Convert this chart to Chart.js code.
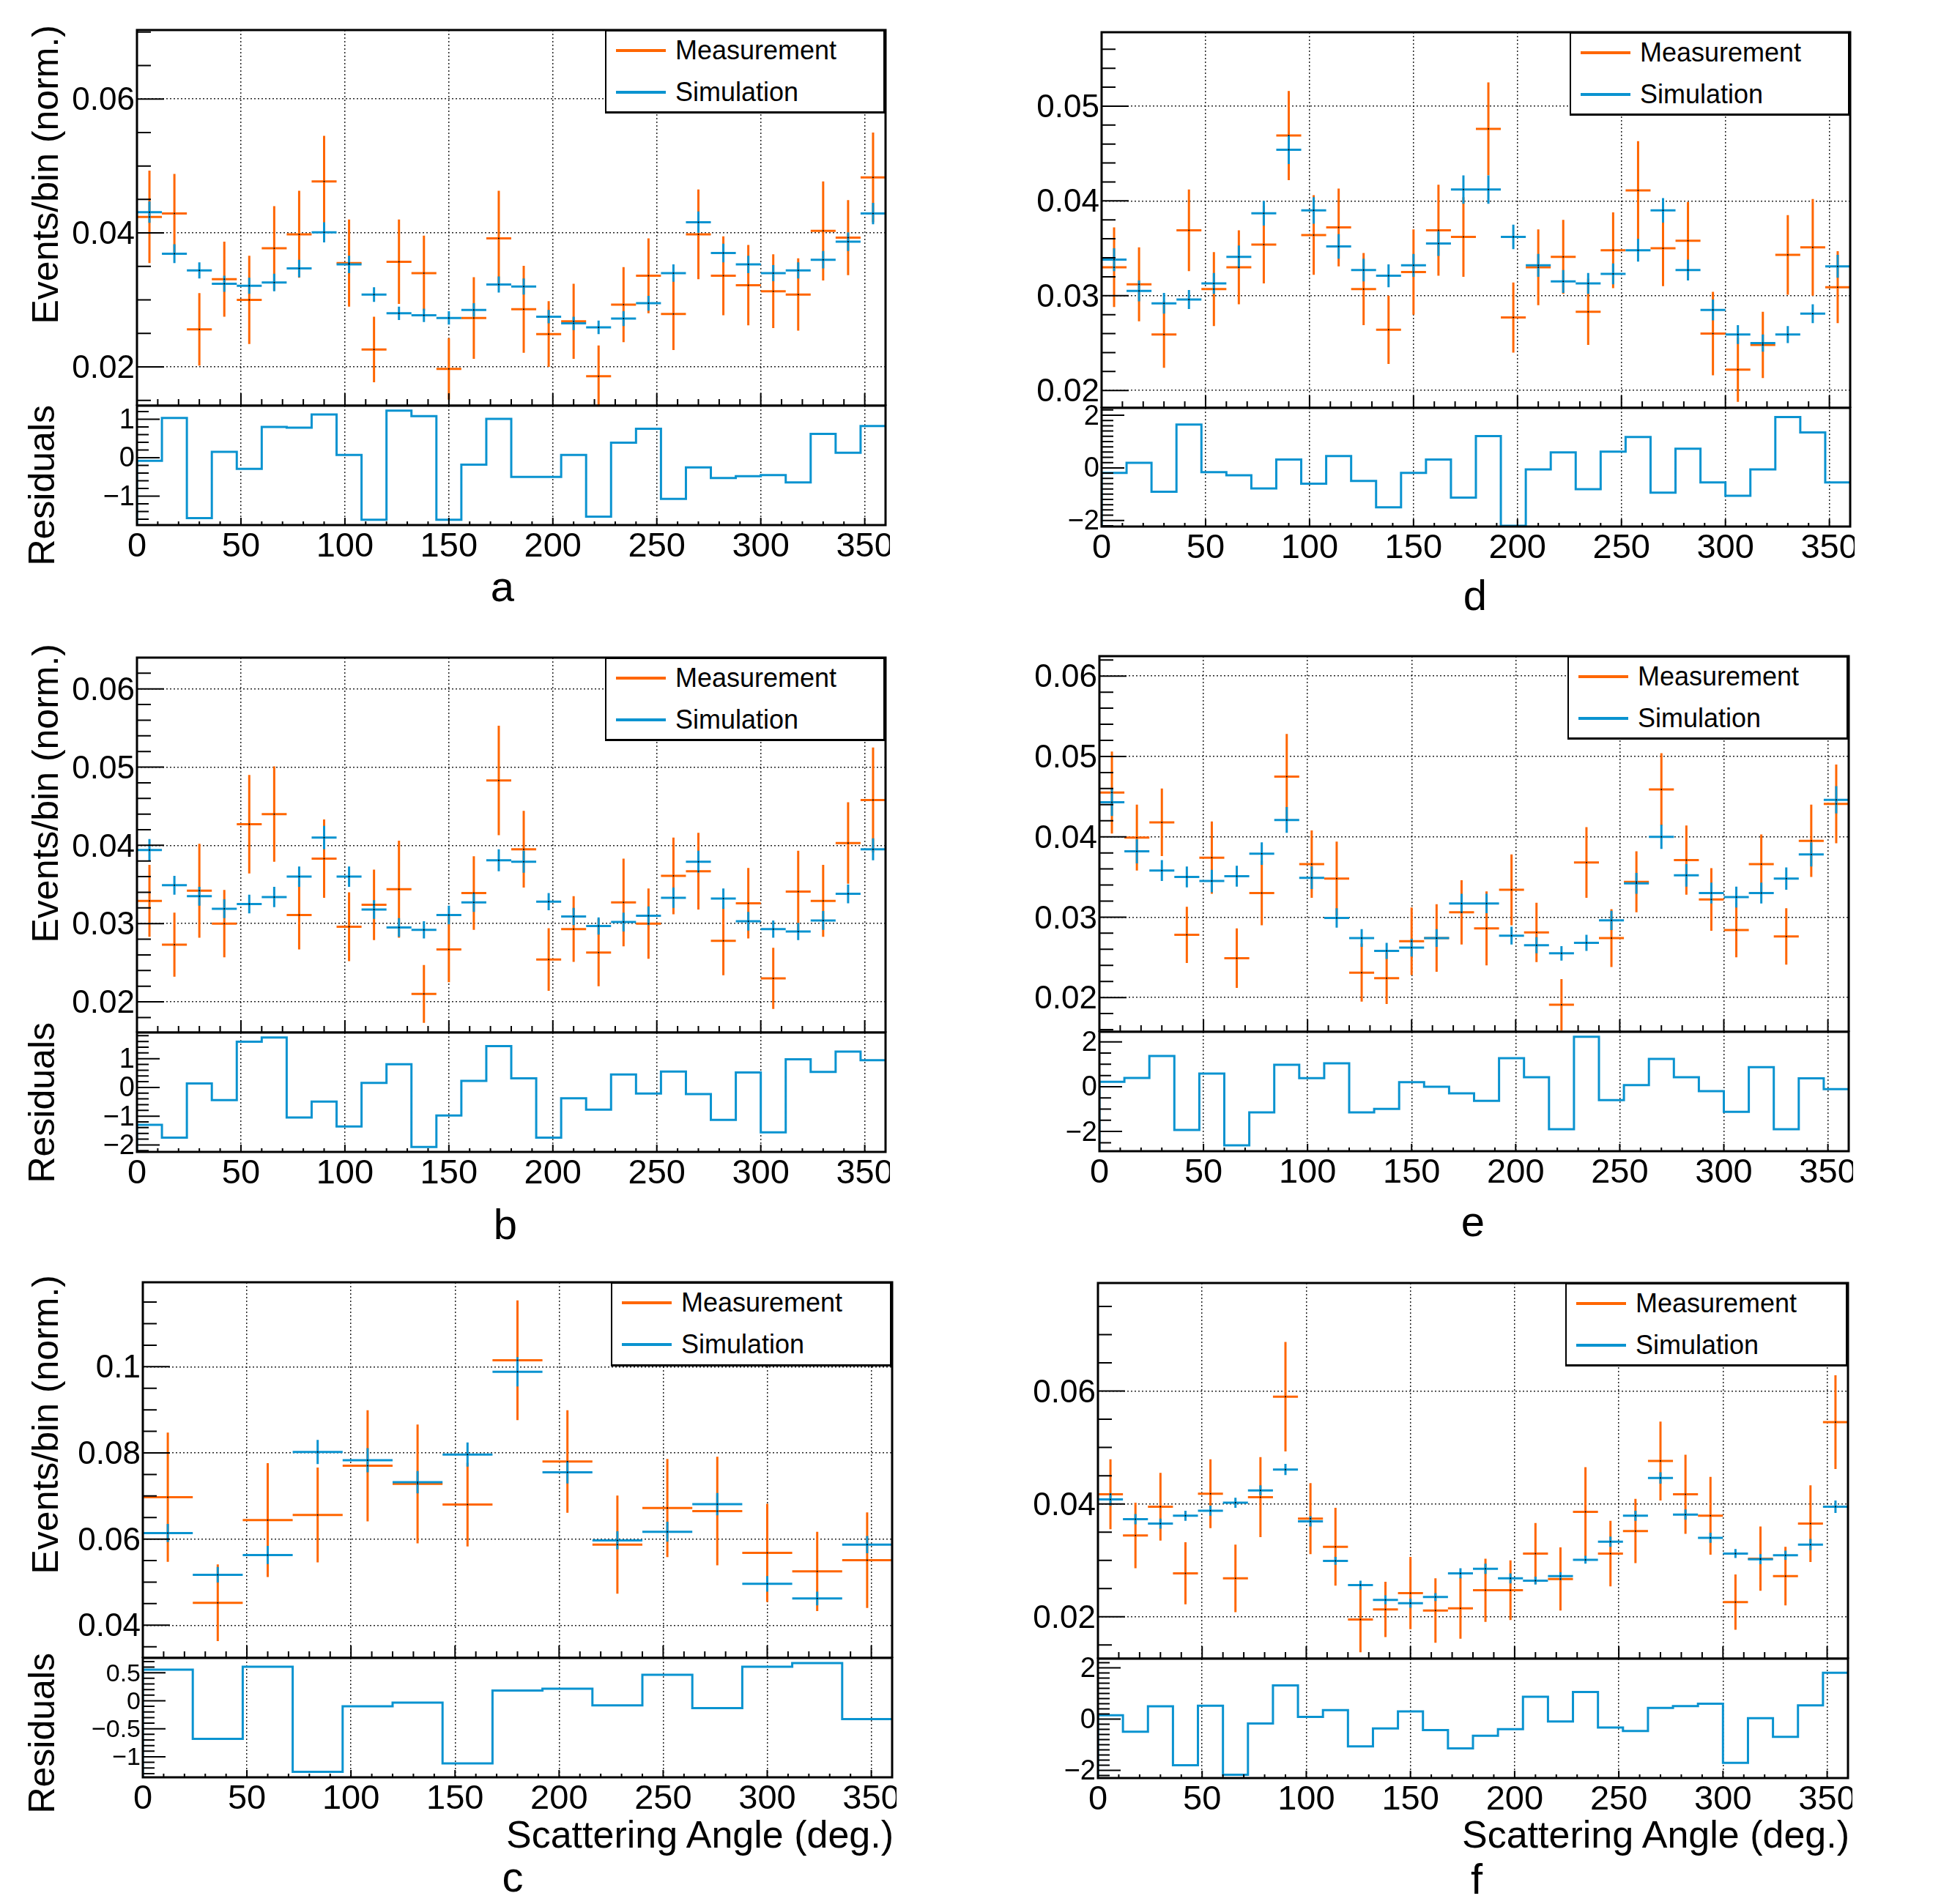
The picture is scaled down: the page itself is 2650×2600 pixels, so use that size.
<!DOCTYPE html>
<html><head><meta charset="utf-8">
<script src="https://cdn.jsdelivr.net/npm/chart.js@4.4.1/dist/chart.umd.min.js"></script>
<style>
html,body{margin:0;padding:0;background:#fff}
body{position:relative;width:2650px;height:2600px;overflow:hidden;font-family:'Liberation Sans',Arial,Helvetica,sans-serif;color:#000}
canvas{position:absolute}
.leg{position:absolute;background:#fff;border-style:solid;border-color:#000;border-width:2px 3px 3px 2px;box-sizing:border-box}
.leg .ln{position:absolute;height:4px}
.leg .tx{position:absolute;font-size:36px;line-height:40px;white-space:nowrap}
.vt{position:absolute;writing-mode:vertical-rl;transform:rotate(180deg);line-height:1;white-space:nowrap}
.ht{position:absolute;line-height:1;white-space:nowrap}
</style></head><body>
<script>
// ---------------- data ----------------
const angles30 = [6,18,30,42,54,66,78,90,102,114,126,138,150,162,174,186,198,210,222,234,246,258,270,282,294,306,318,330,342,354];
const angles15 = [12,36,60,84,108,132,156,180,204,228,252,276,300,324,348];
const xTicks = [0,50,100,150,200,250,300,350];

// panel a
const measA    = [0.0424,0.0429,0.0256,0.0331,0.0300,0.0377,0.0398,0.0477,0.0355,0.0226,0.0357,0.0340,0.0197,0.0273,0.0392,0.0286,0.0249,0.0268,0.0186,0.0293,0.0336,0.0279,0.0398,0.0336,0.0322,0.0313,0.0308,0.0403,0.0393,0.0483];
const measErrA = [0.0069,0.0059,0.0054,0.0056,0.0066,0.0063,0.0065,0.0068,0.0065,0.0049,0.0063,0.0056,0.0046,0.0061,0.0071,0.0065,0.0049,0.0056,0.0046,0.0056,0.0056,0.0054,0.0067,0.0059,0.0060,0.0055,0.0054,0.0074,0.0056,0.0067];
const simA     = [0.0431,0.0369,0.0344,0.0324,0.0321,0.0326,0.0347,0.0401,0.0353,0.0308,0.0280,0.0277,0.0273,0.0285,0.0323,0.0320,0.0275,0.0265,0.0259,0.0272,0.0295,0.0340,0.0416,0.0370,0.0353,0.0340,0.0344,0.0360,0.0387,0.0429];
const simErrA  = [0.0016,0.0014,0.0012,0.0012,0.0012,0.0013,0.0013,0.0015,0.0013,0.0011,0.0010,0.0010,0.0010,0.0010,0.0012,0.0012,0.0010,0.0010,0.0010,0.0011,0.0011,0.0013,0.0016,0.0014,0.0013,0.0012,0.0012,0.0013,0.0014,0.0016];
const residA   = [-0.08,1.03,-1.57,0.15,-0.29,0.80,0.78,1.12,0.07,-1.61,1.22,1.08,-1.61,-0.18,1.01,-0.50,-0.50,0.07,-1.53,0.39,0.75,-1.07,-0.25,-0.53,-0.48,-0.45,-0.64,0.62,0.13,0.82];
const yTicksA = [0.02,0.04,0.06];
const rTicksA = [-1,0,1];

// panel d
const measD    = [0.0330,0.0312,0.0259,0.0369,0.0307,0.0330,0.0354,0.0469,0.0364,0.0372,0.0307,0.0264,0.0325,0.0369,0.0362,0.0476,0.0277,0.0330,0.0341,0.0283,0.0348,0.0411,0.0350,0.0358,0.0260,0.0222,0.0248,0.0343,0.0351,0.0309];
const measErrD = [0.0042,0.0039,0.0035,0.0043,0.0039,0.0039,0.0041,0.0047,0.0042,0.0041,0.0038,0.0036,0.0045,0.0048,0.0042,0.0049,0.0037,0.0040,0.0039,0.0035,0.0040,0.0052,0.0040,0.0041,0.0044,0.0034,0.0035,0.0042,0.0051,0.0038];
const simD     = [0.0338,0.0305,0.0292,0.0296,0.0313,0.0341,0.0387,0.0454,0.0390,0.0352,0.0327,0.0321,0.0332,0.0355,0.0412,0.0412,0.0362,0.0332,0.0315,0.0313,0.0323,0.0348,0.0390,0.0327,0.0285,0.0259,0.0250,0.0259,0.0281,0.0331];
const simErrD  = [0.0012,0.0011,0.0011,0.0010,0.0011,0.0012,0.0013,0.0015,0.0014,0.0013,0.0012,0.0012,0.0012,0.0013,0.0015,0.0015,0.0013,0.0012,0.0012,0.0011,0.0011,0.0012,0.0013,0.0011,0.0011,0.0010,0.0009,0.0009,0.0010,0.0012];
const residD   = [-0.19,0.19,-0.91,1.65,-0.16,-0.28,-0.78,0.32,-0.60,0.45,-0.50,-1.50,-0.19,0.32,-1.13,1.21,-2.20,-0.06,0.59,-0.81,0.62,1.17,-0.94,0.73,-0.55,-1.06,-0.06,1.93,1.35,-0.55];
const yTicksD = [0.02,0.03,0.04,0.05];
const rTicksD = [-2,0,2];

// panel b
const measB    = [0.0329,0.0273,0.0342,0.0300,0.0427,0.0440,0.0311,0.0383,0.0296,0.0324,0.0344,0.0210,0.0267,0.0339,0.0483,0.0395,0.0254,0.0293,0.0263,0.0327,0.0300,0.0361,0.0367,0.0278,0.0326,0.0230,0.0341,0.0329,0.0403,0.0458];
const measErrB = [0.0046,0.0041,0.0060,0.0043,0.0063,0.0061,0.0044,0.0050,0.0044,0.0045,0.0062,0.0037,0.0042,0.0047,0.0070,0.0049,0.0040,0.0042,0.0043,0.0056,0.0045,0.0049,0.0049,0.0044,0.0045,0.0039,0.0052,0.0046,0.0052,0.0067];
const simB     = [0.0394,0.0349,0.0335,0.0319,0.0325,0.0334,0.0360,0.0410,0.0360,0.0318,0.0295,0.0292,0.0311,0.0327,0.0381,0.0379,0.0328,0.0309,0.0297,0.0302,0.0310,0.0333,0.0379,0.0332,0.0303,0.0293,0.0290,0.0304,0.0338,0.0395];
const simErrB  = [0.0014,0.0012,0.0012,0.0012,0.0012,0.0013,0.0013,0.0015,0.0013,0.0012,0.0012,0.0011,0.0012,0.0012,0.0014,0.0014,0.0011,0.0011,0.0011,0.0012,0.0012,0.0013,0.0014,0.0013,0.0012,0.0011,0.0011,0.0012,0.0012,0.0014];
const residB   = [-1.30,-1.75,0.14,-0.44,1.59,1.74,-1.05,-0.49,-1.36,0.16,0.81,-2.07,-0.98,0.23,1.44,0.32,-1.75,-0.38,-0.77,0.45,-0.21,0.55,-0.23,-1.13,0.52,-1.56,0.98,0.54,1.25,0.95];
const yTicksB = [0.02,0.03,0.04,0.05,0.06];
const rTicksB = [-2,-1,0,1];

// panel e
const measE    = [0.0455,0.0399,0.0418,0.0278,0.0374,0.0249,0.0330,0.0475,0.0366,0.0348,0.0231,0.0224,0.0270,0.0274,0.0306,0.0286,0.0334,0.0281,0.0191,0.0368,0.0274,0.0344,0.0459,0.0371,0.0322,0.0284,0.0366,0.0276,0.0395,0.0441];
const measErrE = [0.0051,0.0041,0.0042,0.0035,0.0045,0.0037,0.0040,0.0053,0.0042,0.0046,0.0036,0.0032,0.0042,0.0042,0.0040,0.0046,0.0044,0.0037,0.0032,0.0044,0.0036,0.0038,0.0045,0.0043,0.0039,0.0034,0.0037,0.0035,0.0045,0.0049];
const simE     = [0.0443,0.0382,0.0358,0.0350,0.0345,0.0351,0.0379,0.0421,0.0349,0.0299,0.0274,0.0258,0.0262,0.0274,0.0317,0.0317,0.0277,0.0265,0.0255,0.0268,0.0296,0.0342,0.0400,0.0352,0.0330,0.0325,0.0330,0.0348,0.0378,0.0446];
const simErrE  = [0.0017,0.0015,0.0013,0.0013,0.0014,0.0013,0.0014,0.0016,0.0014,0.0012,0.0011,0.0010,0.0011,0.0011,0.0012,0.0012,0.0011,0.0010,0.0009,0.0010,0.0012,0.0013,0.0015,0.0014,0.0013,0.0013,0.0013,0.0014,0.0015,0.0017];
const residE   = [0.22,0.39,1.37,-1.93,0.59,-2.62,-1.15,0.98,0.38,1.04,-1.15,-0.99,0.20,0.00,-0.30,-0.63,1.27,0.42,-1.90,2.23,-0.60,0.07,1.24,0.42,-0.20,-1.12,0.87,-1.90,0.37,-0.11];
const yTicksE = [0.02,0.03,0.04,0.05,0.06];
const rTicksE = [-2,0,2];

// panel c
const measC    = [0.0697,0.0452,0.0644,0.0656,0.0770,0.0728,0.0680,0.1015,0.0780,0.0587,0.0672,0.0665,0.0568,0.0525,0.0551];
const measErrC = [0.0150,0.0089,0.0132,0.0110,0.0129,0.0138,0.0097,0.0139,0.0119,0.0114,0.0114,0.0126,0.0114,0.0092,0.0111];
const simC     = [0.0614,0.0517,0.0563,0.0802,0.0783,0.0732,0.0796,0.0988,0.0755,0.0597,0.0617,0.0681,0.0496,0.0462,0.0587];
const simErrC  = [0.0021,0.0018,0.0021,0.0028,0.0028,0.0026,0.0028,0.0034,0.0026,0.0021,0.0023,0.0026,0.0018,0.0016,0.0020];
const residC   = [0.555,-0.68,0.607,-1.27,-0.10,-0.035,-1.12,0.183,0.214,-0.083,0.463,-0.131,0.607,0.672,-0.328];
const yTicksC = [0.04,0.06,0.08,0.1];
const rTicksC = [-1,-0.5,0,0.5];

// panel f
const measF    = [0.0417,0.0344,0.0395,0.0277,0.0418,0.0268,0.0412,0.0590,0.0374,0.0324,0.0195,0.0213,0.0242,0.0211,0.0215,0.0247,0.0247,0.0312,0.0267,0.0386,0.0312,0.0352,0.0476,0.0417,0.0379,0.0226,0.0303,0.0272,0.0365,0.0545];
const measErrF = [0.0062,0.0058,0.0060,0.0055,0.0061,0.0060,0.0071,0.0097,0.0063,0.0069,0.0058,0.0049,0.0064,0.0057,0.0054,0.0056,0.0053,0.0054,0.0056,0.0079,0.0058,0.0057,0.0070,0.0070,0.0069,0.0049,0.0057,0.0052,0.0068,0.0083];
const simF     = [0.0408,0.0373,0.0365,0.0379,0.0388,0.0402,0.0424,0.0461,0.0369,0.0299,0.0256,0.0230,0.0224,0.0235,0.0277,0.0285,0.0268,0.0264,0.0272,0.0301,0.0333,0.0379,0.0446,0.0381,0.0340,0.0312,0.0302,0.0309,0.0328,0.0395];
const simErrF  = [0.0011,0.0009,0.0009,0.0009,0.0009,0.0009,0.0009,0.0010,0.0009,0.0007,0.0008,0.0008,0.0008,0.0007,0.0009,0.0009,0.0009,0.0007,0.0007,0.0007,0.0009,0.0009,0.0010,0.0009,0.0009,0.0008,0.0009,0.0008,0.0010,0.0011];
const residF   = [0.15,-0.49,0.50,-1.80,0.52,-2.17,-0.17,1.32,0.09,0.35,-1.06,-0.36,0.30,-0.43,-1.14,-0.65,-0.39,0.87,-0.09,1.06,-0.33,-0.46,0.44,0.51,0.60,-1.71,0.04,-0.69,0.54,1.81];
const yTicksF = [0.02,0.04,0.06];
const rTicksF = [-2,0,2];

const legendLabels = ['Measurement','Simulation'];
const yTitle = 'Events/bin (norm.)';
const rTitle = 'Residuals';
const xTitle = 'Scattering Angle (deg.)';

// ---------------- layout / style ----------------
const ORANGE = '#ff6600', BLUE = '#0a93d0';
const GRID = 'rgba(0,0,0,0.85)';
const SANS = "'Liberation Sans', Arial, Helvetica, sans-serif";
const NARROW = "'Liberation Sans Narrow', 'Arial Narrow', 'Liberation Sans', sans-serif";
const L = 140, P = 6, B = 64;

const PANELS = [
 {id:'a', angles:angles30, meas:measA, measErr:measErrA, sim:simA, simErr:simErrA, resid:residA, yTicks:yTicksA, rTicks:rTicksA,
  x0:187,x1:1209,y0:41,ym:554,y1:717, yMin:0.0142,yMax:0.0703,yMinor:0.005, rMin:-1.75,rMax:1.35,rMinor:0.2,rFont:38,
  leg:[826,41,383,114], letter:[686,821], evTop:34, resTop:553},
 {id:'d', angles:angles30, meas:measD, measErr:measErrD, sim:simD, simErr:simErrD, resid:residD, yTicks:yTicksD, rTicks:rTicksD,
  x0:1504,x1:2526,y0:44,ym:557,y1:719, yMin:0.01816,yMax:0.0578,yMinor:0.002, rMin:-2.23,rMax:2.28,rMinor:0.2,rFont:38,
  leg:[2143,44,383,114], letter:[2014,833]},
 {id:'b', angles:angles30, meas:measB, measErr:measErrB, sim:simB, simErr:simErrB, resid:residB, yTicks:yTicksB, rTicks:rTicksB,
  x0:187,x1:1209,y0:898,ym:1410,y1:1573, yMin:0.01607,yMax:0.064,yMinor:0.002, rMin:-2.245,rMax:1.91,rMinor:0.2,rFont:38,
  leg:[826,898,383,114], letter:[690,1692], evTop:879, resTop:1396},
 {id:'e', angles:angles30, meas:measE, measErr:measErrE, sim:simE, simErr:simErrE, resid:residE, yTicks:yTicksE, rTicks:rTicksE,
  x0:1501,x1:2524,y0:896,ym:1409,y1:1572, yMin:0.01573,yMax:0.06248,yMinor:0.002, rMin:-2.88,rMax:2.45,rMinor:0.5,rFont:38,
  leg:[2140,896,384,114], letter:[2011,1688]},
 {id:'c', angles:angles15, meas:measC, measErr:measErrC, sim:simC, simErr:simErrC, resid:residC, yTicks:yTicksC, rTicks:rTicksC,
  x0:195,x1:1218,y0:1751,ym:2264,y1:2427, yMin:0.0324,yMax:0.1196,yMinor:0.005, rMin:-1.367,rMax:0.764,rMinor:0.1,rFont:34,
  leg:[834,1751,384,115], letter:[700,2583], evTop:1741, resTop:2257, xTitleRight:1220},
 {id:'f', angles:angles30, meas:measF, measErr:measErrF, sim:simF, simErr:simErrF, resid:residF, yTicks:yTicksF, rTicks:rTicksF,
  x0:1499,x1:2523,y0:1752,ym:2265,y1:2428, yMin:0.01257,yMax:0.07915,yMinor:0.005, rMin:-2.30,rMax:2.36,rMinor:0.2,rFont:38,
  leg:[2137,1752,386,114], letter:[2016,2586], xTitleRight:2525}
];

const fmt = v => String(+(+v).toFixed(4)).replace('-', '\u2212');

// ROOT-like frame with inward ticks
const rootFrame = {
  id: 'rootFrame',
  afterDraw(chart, args, o) {
    const {ctx, chartArea: a} = chart;
    const x = chart.scales.x, y = chart.scales.y;
    ctx.save();
    ctx.strokeStyle = '#000'; ctx.lineWidth = 2; ctx.lineCap = 'butt';
    ctx.beginPath();
    const nx = Math.round((x.max - x.min) / o.xMinor);
    for (let k = 0; k <= nx; k++) {
      const v = x.min + k * o.xMinor;
      const px = x.getPixelForValue(v);
      const maj = Math.abs(v / o.xMajor - Math.round(v / o.xMajor)) < 1e-6;
      const len = maj ? o.xMaj : o.xMin;
      ctx.moveTo(px, a.bottom); ctx.lineTo(px, a.bottom - len);
    }
    const k0 = Math.ceil(y.min / o.yMinor - 1e-6), k1 = Math.floor(y.max / o.yMinor + 1e-6);
    for (let k = k0; k <= k1; k++) {
      const v = k * o.yMinor;
      const py = y.getPixelForValue(v);
      const maj = o.yMajors.some(m => Math.abs(m - v) < o.yMinor * 1e-3);
      const len = maj ? o.yMaj : o.yMin;
      ctx.moveTo(a.left, py); ctx.lineTo(a.left + len, py);
    }
    ctx.stroke();
    ctx.lineWidth = 3;
    ctx.strokeRect(a.left, a.top, a.right - a.left, a.bottom - a.top);
    ctx.restore();
  }
};

function makeCanvas(left, top, w, h) {
  const c = document.createElement('canvas');
  c.width = w; c.height = h;
  c.style.left = left + 'px'; c.style.top = top + 'px';
  c.style.width = w + 'px'; c.style.height = h + 'px';
  document.body.appendChild(c);
  return c;
}

function crossData(angles, vals, errs) {
  const hw = (angles[1] - angles[0]) / 2;
  const h = [], v = [];
  angles.forEach((a, i) => {
    h.push({x: a - hw, y: vals[i]}, {x: a + hw, y: vals[i]}, {x: a + hw, y: null});
    v.push({x: a, y: vals[i] - errs[i]}, {x: a, y: vals[i] + errs[i]}, {x: a, y: null});
  });
  return [h, v];
}

function stepData(angles, vals, base) {
  const hw = (angles[1] - angles[0]) / 2;
  const pts = [{x: angles[0] - hw, y: base}];
  angles.forEach((a, i) => pts.push({x: a - hw, y: vals[i]}));
  pts.push({x: angles[angles.length - 1] + hw, y: vals[vals.length - 1]});
  return pts;
}

const lineDs = (data, color, w) => ({data, borderColor: color, backgroundColor: color, borderWidth: w,
  pointRadius: 0, showLine: true, spanGaps: false, fill: false, tension: 0});

function xScale(showLabels, height) {
  return {
    type: 'linear', min: 0, max: 360,
    afterBuildTicks: s => { s.ticks = xTicks.map(v => ({value: v})); },
    ticks: {display: showLabels, font: {family: NARROW, size: 47}, color: '#000', padding: 2, maxRotation: 0, autoSkip: false, callback: fmt},
    grid: {drawTicks: false, color: GRID, lineWidth: 1.5},
    border: {display: false, dash: [2, 3]},
    afterFit: s => { s.height = height; s.paddingLeft = 0; s.paddingRight = 0; }
  };
}
function yScale(min, max, ticksArr, size, showGrid, offset) {
  return {
    type: 'linear', min, max,
    afterBuildTicks: s => { s.ticks = ticksArr.map(v => ({value: v})); },
    ticks: {font: {family: SANS, size}, color: '#000', padding: 3, autoSkip: false, labelOffset: offset, callback: fmt},
    grid: {display: showGrid, drawTicks: false, color: GRID, lineWidth: 1.5},
    border: {display: false, dash: [2, 3]},
    afterFit: s => { s.width = L; s.paddingTop = 0; s.paddingBottom = 0; }
  };
}
const baseOpts = () => ({
  responsive: false, animation: false, devicePixelRatio: 1, events: [],
  layout: {padding: {top: P, right: P, left: 0, bottom: 0}, autoPadding: false},
  plugins: {legend: {display: false}, tooltip: {enabled: false}}
});

function mainChart(p) {
  const c = makeCanvas(p.x0 - L, p.y0 - P, p.x1 - p.x0 + L + P, p.ym - p.y0 + P);
  const [mh, mv] = crossData(p.angles, p.meas, p.measErr);
  const [sh, sv] = crossData(p.angles, p.sim, p.simErr);
  const dots = {data: p.angles.map((a, i) => ({x: a, y: p.sim[i]})).concat(p.angles.map((a, i) => ({x: a, y: p.meas[i]}))),
    showLine: false, pointRadius: 1, pointBackgroundColor: '#000', pointBorderWidth: 0};
  const opts = baseOpts();
  opts.plugins.rootFrame = {xMinor: 10, xMajor: 50, xMaj: 17, xMin: 9, yMajors: p.yTicks, yMinor: p.yMinor, yMaj: 37, yMin: 19};
  opts.scales = {x: xScale(false, 0), y: yScale(p.yMin, p.yMax, p.yTicks, 44, true, 3)};
  new Chart(c, {type: 'line',
    data: {datasets: [dots, lineDs(sh, BLUE, 3), lineDs(sv, BLUE, 3), lineDs(mh, ORANGE, 3), lineDs(mv, ORANGE, 3)]},
    options: opts, plugins: [rootFrame]});
}

function residChart(p) {
  const c = makeCanvas(p.x0 - L, p.ym - P, p.x1 - p.x0 + L + P, p.y1 - p.ym + P + B);
  const opts = baseOpts();
  opts.plugins.rootFrame = {xMinor: 10, xMajor: 50, xMaj: 10, xMin: 5, yMajors: p.rTicks, yMinor: p.rMinor, yMaj: 31, yMin: 16};
  opts.scales = {x: xScale(true, B), y: yScale(p.rMin, p.rMax, p.rTicks, p.rFont, false, 2)};
  const ds = lineDs(stepData(p.angles, p.resid, p.rMin), BLUE, 3);
  ds.stepped = 'before';
  new Chart(c, {type: 'line', data: {datasets: [ds]}, options: opts, plugins: [rootFrame]});
}

function addDiv(cls, text, style) {
  const d = document.createElement('div');
  d.className = cls; d.textContent = text;
  Object.assign(d.style, style);
  document.body.appendChild(d);
  return d;
}

function legend(p) {
  const [l, t, w, h] = p.leg;
  const box = document.createElement('div');
  box.className = 'leg';
  Object.assign(box.style, {left: l + 'px', top: t + 'px', width: w + 'px', height: h + 'px'});
  [[legendLabels[0], ORANGE, 28], [legendLabels[1], BLUE, 85]].forEach(([txt, col, yy]) => {
    const ln = document.createElement('div'); ln.className = 'ln';
    Object.assign(ln.style, {left: '13px', top: (yy - 2 - 2) + 'px', width: '68px', background: col});
    box.appendChild(ln);
    const tx = document.createElement('div'); tx.className = 'tx'; tx.textContent = txt;
    Object.assign(tx.style, {left: '94px', top: (yy - 2 - 20) + 'px'});
    box.appendChild(tx);
  });
  document.body.appendChild(box);
}

PANELS.forEach(p => {
  mainChart(p);
  residChart(p);
  legend(p);
  const ls = 58;
  addDiv('ht', p.id, {fontSize: ls + 'px', left: p.letter[0] + 'px', top: (p.letter[1] - 0.8465 * ls) + 'px', transform: 'translateX(-50%)'});
  if (p.evTop !== undefined) {
    const s = 50;
    addDiv('vt', yTitle, {fontSize: s + 'px', left: (61 - 0.488 * s) + 'px', top: p.evTop + 'px'});
    addDiv('vt', rTitle, {fontSize: s + 'px', left: (56 - 0.488 * s) + 'px', top: p.resTop + 'px'});
  }
  if (p.xTitleRight !== undefined) {
    const s = 52;
    addDiv('ht', xTitle, {fontSize: s + 'px', right: (2650 - p.xTitleRight) + 'px', top: (2523 - 0.8465 * s) + 'px'});
  }
});
</script>
</body></html>
